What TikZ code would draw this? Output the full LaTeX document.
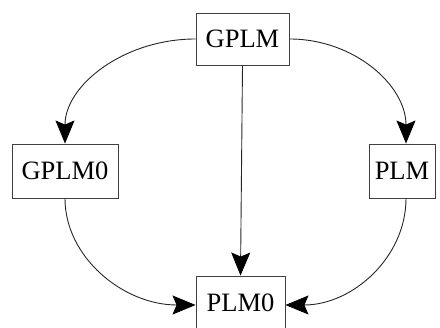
\documentclass[tikz,border=0pt]{standalone}
\usepackage{fontspec}
\setmainfont{Liberation Serif}
\usetikzlibrary{arrows.meta}
\begin{document}
\begin{tikzpicture}[x=1pt,y=-1pt,
  box/.style={draw=black!75,line width=0.9pt,rectangle,inner sep=0pt,font=\fontsize{26.5}{30}\selectfont},
  conn/.style={draw=black!85,line width=0.9pt,-{Stealth[length=23pt,width=19pt,inset=4pt,color=black]}}]
\useasboundingbox (0,0) rectangle (440,328);
\node[box,minimum width=93pt,minimum height=52pt] (GPLM) at (242.5,39) {GPLM};
\node[box,minimum width=106pt,minimum height=54pt] (GPLM0) at (65,171) {GPLM0};
\node[box,minimum width=66pt,minimum height=54pt] (PLM) at (402,171) {PLM};
\node[box,minimum width=89pt,minimum height=54pt] (PLM0) at (240.5,303) {PLM0};
\draw[conn] (GPLM.west) .. controls +(-72,0) and +(0,-58) .. (GPLM0.north);
\draw[conn] (GPLM.east) .. controls +(65,0) and +(0,-58) .. ([xshift=4pt]PLM.north);
\draw[conn] (GPLM.south) -- (PLM0.north);
\draw[conn] (GPLM0.south) .. controls +(0,59) and +(-72,0) .. ([yshift=-2pt]PLM0.west);
\draw[conn] ([xshift=4pt]PLM.south) .. controls +(0,59) and +(67,0) .. ([yshift=-2pt]PLM0.east);
\end{tikzpicture}
\end{document}
